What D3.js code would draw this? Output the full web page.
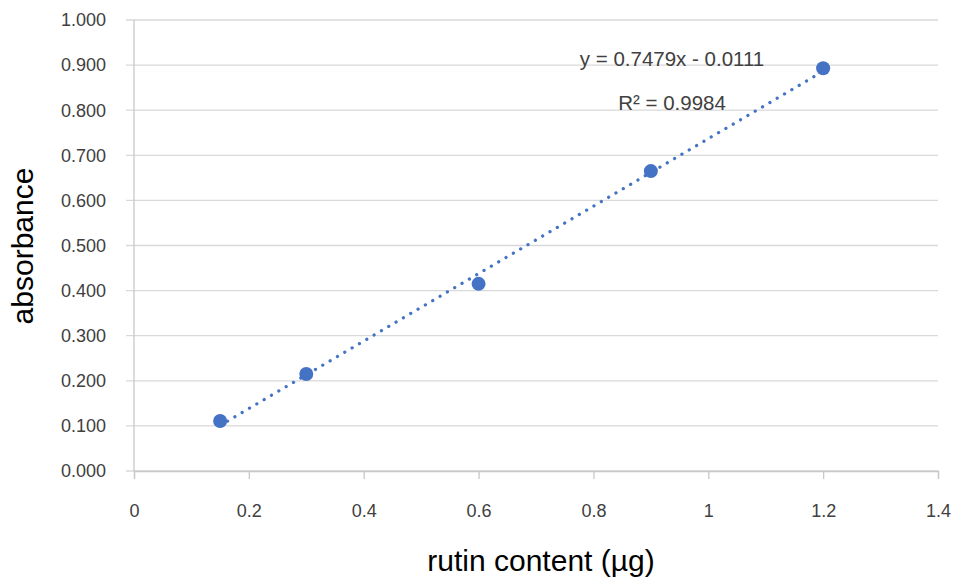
<!DOCTYPE html>
<html>
<head>
<meta charset="utf-8">
<script src="https://cdn.jsdelivr.net/npm/d3@7/dist/d3.min.js"></script>
<style>
body { margin: 0; background: #fff; }
text { font-family: "Liberation Sans", Arial, sans-serif; fill: #404040; }
</style>
</head>
<body>
<div id="chart"></div>
<script>
var rutin = [0.15, 0.3, 0.6, 0.9, 1.2];
var absorbance = [0.111, 0.215, 0.415, 0.665, 0.893];
var xTicks = [0, 0.2, 0.4, 0.6, 0.8, 1, 1.2, 1.4];
var yTicks = [0, 0.1, 0.2, 0.3, 0.4, 0.5, 0.6, 0.7, 0.8, 0.9, 1.0];
var slope = 0.7479, intercept = -0.0111;
var eqLabel = "y = 0.7479x - 0.0111";
var r2Label = "R² = 0.9984";

function draw() {
    var w = 956, h = 585;
    var svg = d3.select("#chart").append("svg")
	.attr("width", w)
	.attr("height", h);

    var x = d3.scaleLinear().domain([0, 1.4]).range([134, 938]);
    var y = d3.scaleLinear().domain([0, 1]).range([471, 20]);

    // horizontal gridlines (they stick out left as ticks)
    svg.selectAll(".grid").data(yTicks).enter().append("line")
	.attr("x1", 126).attr("x2", 938)
	.attr("y1", function(d) { return y(d); })
	.attr("y2", function(d) { return y(d); })
	.style("stroke", "#d9d9d9")
	.style("stroke-width", 1.3);

    // vertical axis line
    svg.append("line")
	.attr("x1", x(0)).attr("x2", x(0))
	.attr("y1", y(1)).attr("y2", y(0))
	.style("stroke", "#c8c8c8").style("stroke-width", 1.3);

    // bottom axis with ticks
    var xAxis = d3.axisBottom(x).tickValues(xTicks).tickSize(8)
	.tickFormat(function(d) { return d3.format("")(+d.toFixed(1)); });
    var gx = svg.append("g").attr("transform", "translate(0," + y(0) + ")").call(xAxis);
    gx.select(".domain").style("stroke", "#c8c8c8").style("stroke-width", 1.3);
    gx.selectAll(".tick line").style("stroke", "#c8c8c8").style("stroke-width", 1.3);
    gx.selectAll(".tick text").attr("dy", 0).attr("y", 46)
	.style("font-size", "18px").style("fill", "#404040")
	.style("font-family", "Liberation Sans, Arial, sans-serif");

    // y tick labels
    svg.selectAll(".ylab").data(yTicks).enter().append("text")
	.attr("x", 106)
	.attr("y", function(d) { return y(d); })
	.attr("dy", "0.35em")
	.attr("text-anchor", "end")
	.style("font-size", "18px")
	.text(function(d) { return d3.format(".3f")(d); });

    // trendline
    var x0 = d3.min(rutin), x1 = d3.max(rutin);
    svg.append("line")
	.attr("x1", x(x0)).attr("y1", y(slope * x0 + intercept))
	.attr("x2", x(x1)).attr("y2", y(slope * x1 + intercept))
	.style("stroke", "#4472c4")
	.style("stroke-width", 3.2)
	.style("stroke-linecap", "round")
	.style("stroke-dasharray", "0.1 8.4");

    // points
    svg.selectAll(".pt").data(rutin).enter().append("circle")
	.attr("cx", function(d) { return x(d); })
	.attr("cy", function(d, i) { return y(absorbance[i]); })
	.attr("r", 7)
	.attr("fill", "#4472c4");

    // equation labels
    svg.append("text").attr("x", 672).attr("y", 66)
	.attr("text-anchor", "middle").style("font-size", "20.5px")
	.text(eqLabel);
    svg.append("text").attr("x", 672).attr("y", 110)
	.attr("text-anchor", "middle").style("font-size", "20.5px")
	.text(r2Label);

    // axis titles
    svg.append("text")
	.attr("transform", "translate(33,246) rotate(-90)")
	.attr("text-anchor", "middle")
	.style("font-size", "30px").style("fill", "#000")
	.text("absorbance");
    svg.append("text")
	.attr("x", 541).attr("y", 571)
	.attr("text-anchor", "middle")
	.style("font-size", "30px").style("fill", "#000")
	.text("rutin content (µg)");
}
draw();
</script>
</body>
</html>
